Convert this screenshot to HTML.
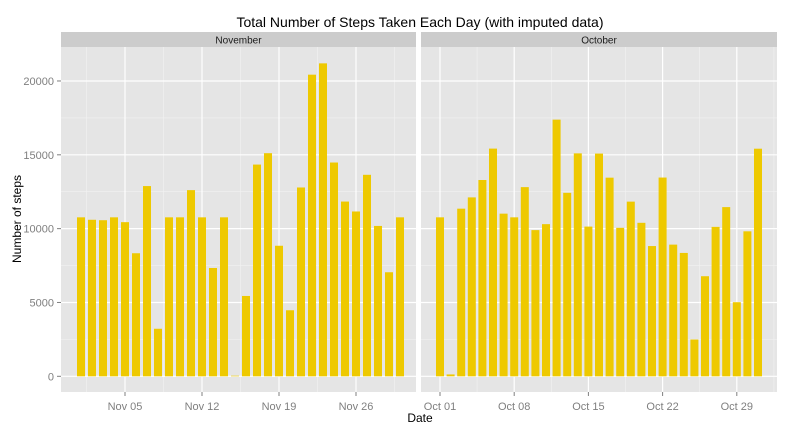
<!DOCTYPE html>
<html><head><meta charset="utf-8"><style>
body{margin:0;background:#fff;}
svg{display:block;font-family:"Liberation Sans",sans-serif;}
</style></head><body>
<svg id="c" width="792" height="432"></svg>
<script>
const novDays=[1,2,3,4,5,6,7,8,9,10,11,12,13,14,15,16,17,18,19,20,21,22,23,24,25,26,27,28,29,30];
const novSteps=[10766,10600,10571,10766,10439,8334,12883,3219,10766,10766,12608,10765,7336,10766,41,5441,14339,15110,8841,4472,12787,20427,21194,14478,11834,11162,13646,10183,7047,10766];
const octDays=[1,2,3,4,5,6,7,8,9,10,11,12,13,14,15,16,17,18,19,20,21,22,23,24,25,26,27,28,29,30,31];
const octSteps=[10766,126,11352,12116,13294,15420,11015,10766,12811,9900,10304,17382,12426,15098,10139,15084,13452,10056,11829,10395,8821,13460,8918,8355,2492,6778,10119,11458,5018,9819,15414];
const yTicks=[0,5000,10000,15000,20000];
const novTickDays=[5,12,19,26], novTickLabels=["Nov 05","Nov 12","Nov 19","Nov 26"];
const octTickDays=[1,8,15,22,29], octTickLabels=["Oct 01","Oct 08","Oct 15","Oct 22","Oct 29"];

const svg=document.getElementById('c');const NS="http://www.w3.org/2000/svg";
function el(t,a,p){const e=document.createElementNS(NS,t);for(const k in a)e.setAttribute(k,a[k]);(p||svg).appendChild(e);return e;}
const plotTop=47,bot=392;
const y=v=>376.3-v*0.014766;
const panels=[
 {x0:61,x1:416,name:"November",days:novDays,vals:novSteps,td:novTickDays,tl:novTickLabels,sx:d=>81+(d-1)*11,id:'nov'},
 {x0:421,x1:777,name:"October",days:octDays,vals:octSteps,td:octTickDays,tl:octTickLabels,sx:d=>440+(d-1)*10.6,id:'oct'}
];
let t=el('text',{x:420,y:27,'text-anchor':'middle','font-size':14,fill:'#000'});


t.textContent="Total Number of Steps Taken Each Day (with imputed data)";
panels.forEach(p=>{
 const g=el('g',{});
 
 
 el('rect',{x:p.x0,y:plotTop,width:p.x1-p.x0,height:bot-plotTop,fill:'#e5e5e5'},g);
 const s=el('rect',{x:p.x0,y:32,width:p.x1-p.x0,height:15,fill:'#cccccc'},g);
 
 
 const st=el('text',{x:(p.x0+p.x1)/2,y:43.5,'text-anchor':'middle','font-size':10,fill:'#1a1a1a'},g);
 st.textContent=p.name;
 for(let i=0;i<yTicks.length;i++){const v=yTicks[i]+2500;if(y(v)>plotTop)el('line',{x1:p.x0,x2:p.x1,y1:y(v),y2:y(v),stroke:'#f2f2f2','stroke-width':0.6},g);}
 const step=p.td[1]-p.td[0];
 for(let d=p.td[0]-step*1.5;d<p.days.length+step;d+=step){const xx=p.sx(d);if(xx>p.x0&&xx<p.x1)el('line',{x1:xx,x2:xx,y1:plotTop,y2:bot,stroke:'#f2f2f2','stroke-width':0.6},g);}
 yTicks.forEach(v=>el('line',{x1:p.x0,x2:p.x1,y1:y(v),y2:y(v),stroke:'#fff','stroke-width':1.2},g));
 p.td.forEach((d,i)=>{const xx=p.sx(d);el('line',{x1:xx,x2:xx,y1:plotTop,y2:bot,stroke:'#fff','stroke-width':1.2},g);
  el('line',{x1:xx,x2:xx,y1:bot,y2:bot+4,stroke:'#7f7f7f'},g);
  const tt=el('text',{x:xx,y:bot+18,'text-anchor':'middle','font-size':11,fill:'#7f7f7f'},g);tt.textContent=p.tl[i];});
 p.days.forEach((d,i)=>{const v=p.vals[i];const r=el('rect',{x:p.sx(d)-4,y:y(v),width:8,height:y(0)-y(v),fill:'#eec900'},g);
  
  });
});
yTicks.forEach(v=>{el('line',{x1:57,x2:61,y1:y(v),y2:y(v),stroke:'#7f7f7f'});
 const tt=el('text',{x:54,y:y(v)+4,'text-anchor':'end','font-size':11,fill:'#7f7f7f'});tt.textContent=v;});
let xl=el('text',{x:420,y:422,'text-anchor':'middle','font-size':12,fill:'#000'});


xl.textContent="Date";
let yl=el('text',{x:0,y:0,'text-anchor':'middle','font-size':12,fill:'#000',transform:'translate(21,219) rotate(-90)'});


yl.textContent="Number of steps";
</script>
</body></html>
